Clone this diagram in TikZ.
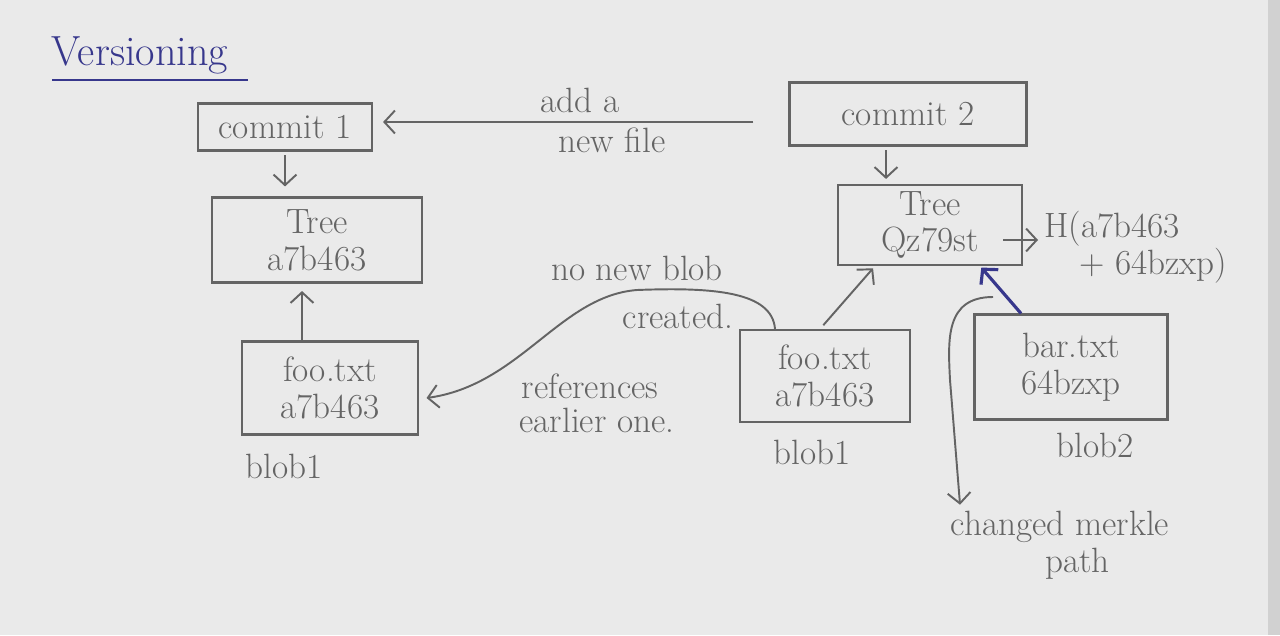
\documentclass[tikz,border=0pt]{standalone}
\usepackage{tikz}
\usetikzlibrary{arrows.meta}
\definecolor{pencil}{RGB}{100,100,100}
\definecolor{ink}{RGB}{55,55,140}
\definecolor{paper}{RGB}{234,234,234}

\begin{document}
\begin{tikzpicture}[x=0.02cm,y=-0.02cm]
\tikzstyle{every node}+=[font=\fontsize{20}{21}\selectfont, text=pencil]
\tikzstyle{box}=[draw=pencil, line width=1.2pt, align=center, inner sep=0pt]
\tikzstyle{link}=[draw=pencil, line width=1.1pt, -{Straight Barb[length=6pt,width=13pt]}]
\fill [paper] (0,0) rectangle (1280,635);
\fill [pencil!30] (1268,0) rectangle (1280,635);
% title
\node [text=ink, font=\fontsize{24}{26}\selectfont] (title) at (140,55) {Versioning};
\draw [ink, line width=1.2pt] (52,80) -- (248,80);
% commits
\node [box, minimum width=3.48cm, minimum height=0.94cm] (commit1) at (285,127) {commit 1};
\node [box, minimum width=4.74cm, minimum height=1.26cm] (commit2) at (908,114) {commit 2};
\draw [link, shorten <=0.7cm, shorten >=0.2cm] ([yshift=-0.16cm]commit2.west) -- ([yshift=-0.16cm]commit2.west -| commit1.east);
\node (adda) at (580,100) {add a};
\node (newfile) at (612,140) {new file};
% trees
\node [box, minimum width=4.2cm, minimum height=1.7cm] (tree1) at (317,240) {Tree\\a7b463};
\node [box, minimum width=3.68cm, minimum height=1.6cm] (tree2) at (930,225) {Tree\\Qz79st};
\draw [link, shorten <=2pt, shorten >=0.2cm] (commit1.south) -- (commit1.south |- tree1.north);
\draw [link, shorten <=2pt, shorten >=0.1cm] ([xshift=-0.44cm]commit2.south) -- ([xshift=-0.44cm]commit2.south |- tree2.north);
\node [align=left, anchor=west] (hash) at (1038,247) {H(a7b463\\\quad+ 64bzxp)};
\draw [link, shorten <=-0.4cm] ([yshift=-0.3cm]tree2.east) -- ([yshift=-0.3cm]tree2.east -| hash.west);
% blobs
\node [box, minimum width=3.52cm, minimum height=1.86cm] (foo1) at (330,388) {foo.txt\\a7b463};
\node [box, minimum width=3.4cm, minimum height=1.84cm] (foo2) at (825,376) {foo.txt\\a7b463};
\node [box, minimum width=3.86cm, minimum height=2.1cm] (bar) at (1071,367) {bar.txt\\64bzxp};
\node (blob1a) at (284,466) {blob1};
\node (blob1b) at (812,452) {blob1};
\node (blob2) at (1095,445) {blob2};
\draw [link, shorten >=0.15cm] ([xshift=-0.56cm]foo1.north) -- ([xshift=-0.56cm]foo1.north |- tree1.south);
\draw [link, shorten <=0.1cm, shorten >=0.06cm] ([xshift=-0.1cm]foo2.north) -- ([xshift=-1.1cm]tree2.south);
\draw [link, draw=ink, line width=1.8pt, shorten >=0.04cm] ([xshift=-1cm]bar.north) -- ([xshift=1cm]tree2.south);
% no new blob
\draw [link] ([xshift=-1cm]foo2.north) .. controls (772,292) and (715,287) .. (637,290)
  .. controls (560,296) and (520,385) .. ([xshift=0.15cm, yshift=-0.2cm]foo1.east);
\node (nonew) at (637,268) {no new blob};
\node (created) at (678,316) {created.};
\node (refs) at (590,386) {references};
\node (earlier) at (597,420) {earlier one.};
% merkle path
\node [align=center] (merkle) at (1060,545) {changed merkle\\\quad path};
\coordinate (mstart) at (993,297);
\draw [link] (mstart) .. controls (945,297) and (948,340) .. (950,380) -- ([xshift=-2cm]merkle.north);
\end{tikzpicture}
\end{document}
